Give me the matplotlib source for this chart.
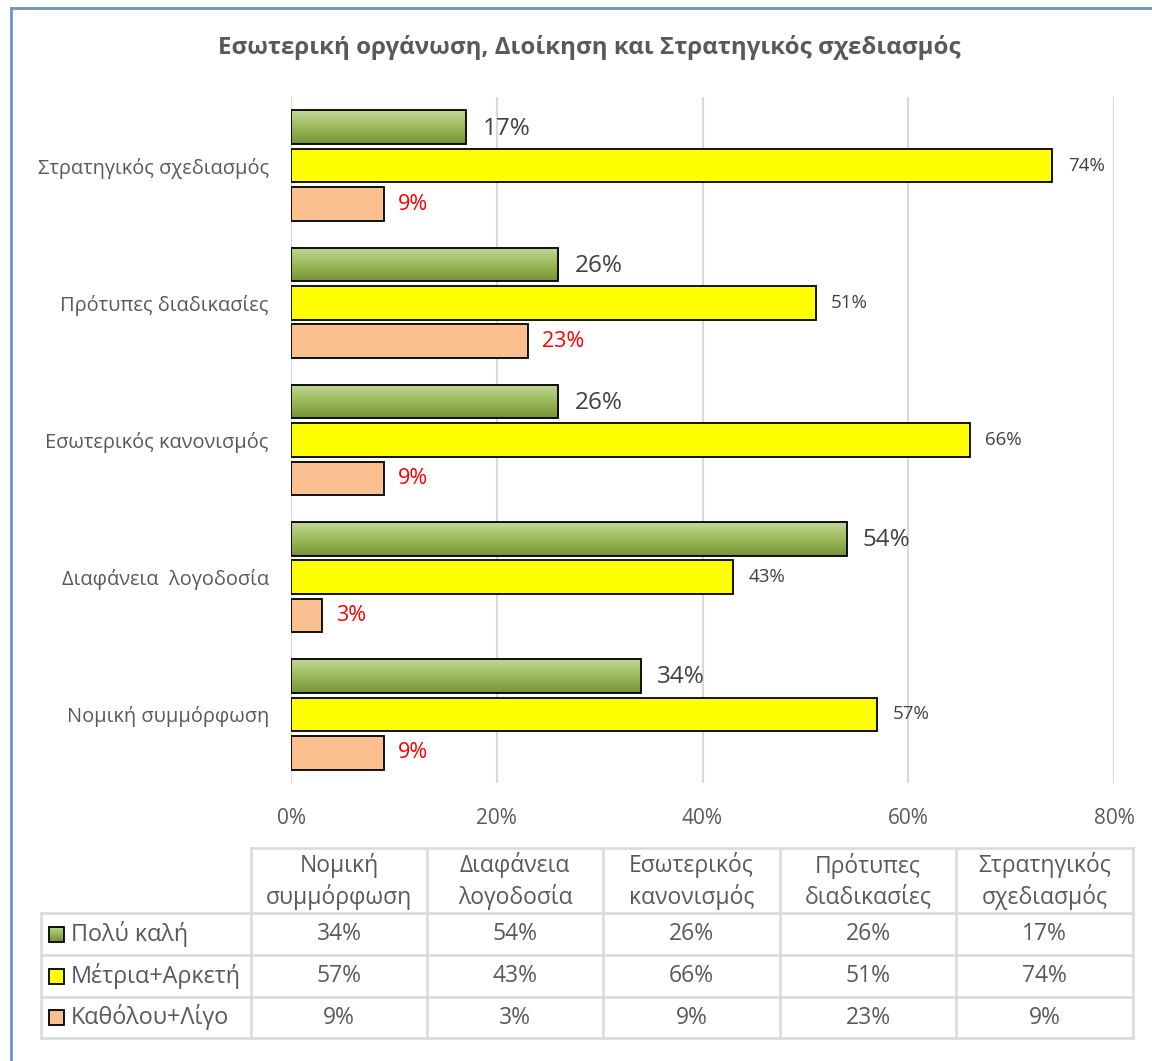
import numpy as np
import matplotlib.pyplot as plt
from matplotlib.patches import Rectangle
from matplotlib.colors import LinearSegmentedColormap

plt.rcParams['font.family'] = ['Open Sans', 'DejaVu Sans']

# κατηγορίες (από κάτω προς τα πάνω) και ποσοστά ανά απάντηση
categories = ['Νομική συμμόρφωση', 'Διαφάνεια  λογοδοσία', 'Εσωτερικός κανονισμός',
              'Πρότυπες διαδικασίες', 'Στρατηγικός σχεδιασμός']
table_headers = ['Νομική\nσυμμόρφωση', 'Διαφάνεια\nλογοδοσία', 'Εσωτερικός\nκανονισμός',
                 'Πρότυπες\nδιαδικασίες', 'Στρατηγικός\nσχεδιασμός']
series_names = ['Πολύ καλή', 'Μέτρια+Αρκετή', 'Καθόλου+Λίγο']
poly_kali = [34, 54, 26, 26, 17]
metria = [57, 43, 66, 51, 74]
katholou = [9, 3, 9, 23, 9]
xticks = [0, 20, 40, 60, 80]

W, H = 1152, 1061
fig = plt.figure(figsize=(W / 100, H / 100), dpi=100)
fig.patch.set_facecolor('white')

ax = fig.add_axes([291 / W, 1 - 783 / H, (1114 - 291) / W, (783 - 97) / H])
y = np.arange(len(categories))
bh = 0.245
off = 0.28
grey = '#595959'

green_cmap = LinearSegmentedColormap.from_list('g', ['#76923c', '#9bbb59', '#c3d69b'])

# πράσινες μπάρες με διαβάθμιση
bars_g = ax.barh(y + off, poly_kali, height=bh, color='none', edgecolor='black', linewidth=1.3, zorder=4)
grad = np.linspace(0, 1, 64).reshape(-1, 1)
for b in bars_g:
    x0, y0 = b.get_x(), b.get_y()
    ax.imshow(grad, cmap=green_cmap, aspect='auto', origin='lower', zorder=3,
              extent=[x0, x0 + b.get_width(), y0, y0 + b.get_height()])
bars_y = ax.barh(y, metria, height=bh, color='#ffff00', edgecolor='black', linewidth=1.3, zorder=3)
bars_o = ax.barh(y - off, katholou, height=bh, color='#fac090', edgecolor='black', linewidth=1.3, zorder=3)

for i in range(len(categories)):
    ax.text(poly_kali[i] + 1.6, y[i] + off - 0.01, f'{poly_kali[i]}%', va='center', ha='left',
            fontsize=17.5, color='#404040')
    ax.text(metria[i] + 1.5, y[i], f'{metria[i]}%', va='center', ha='left',
            fontsize=13.5, color='#404040')
    ax.text(katholou[i] + 1.4, y[i] - off, f'{katholou[i]}%', va='center', ha='left',
            fontsize=15.5, color='#ff0000')

ax.set_xlim(0, 80)
ax.set_ylim(-0.5, len(categories) - 0.5)
ax.set_xticks(xticks)
ax.set_xticklabels([f'{t}%' for t in xticks], fontsize=15, color=grey)
ax.set_yticks(y)
ax.set_yticklabels(categories, fontsize=14.4, color=grey)
ax.tick_params(length=0)
ax.tick_params(axis='x', pad=18)
ax.tick_params(axis='y', pad=16)
ax.grid(axis='x', color='#d9d9d9', linewidth=1.5, zorder=0)
ax.set_axisbelow(True)
for s in ax.spines.values():
    s.set_visible(False)

# επικάλυψη σε pixel για τίτλο, πλαίσιο και πίνακα δεδομένων
ov = fig.add_axes([0, 0, 1, 1], zorder=-1)
ov.set_xlim(0, W)
ov.set_ylim(H, 0)
ov.axis('off')

ov.plot([11, W], [8, 8], color='#6d93c9', linewidth=2)
ov.plot([11, 11], [8, H], color='#6d93c9', linewidth=2)

fig.text(589 / W, 1 - 47 / H, 'Εσωτερική οργάνωση, Διοίκηση και Στρατηγικός σχεδιασμός',
         ha='center', va='center', fontsize=17.4, fontweight='bold', color=grey)

col_x = [41, 251, 427, 603, 780, 956, 1133]
row_y = [848, 913, 955, 997, 1038]
lc = '#d9d9d9'
lw = 1.8
# οριζόντιες γραμμές
ov.plot([col_x[1], col_x[-1]], [row_y[0], row_y[0]], color=lc, lw=lw)
for ry in row_y[1:]:
    ov.plot([col_x[0], col_x[-1]], [ry, ry], color=lc, lw=lw)
# κάθετες γραμμές
ov.plot([col_x[0], col_x[0]], [row_y[1], row_y[-1]], color=lc, lw=lw)
for cx in col_x[1:]:
    ov.plot([cx, cx], [row_y[0], row_y[-1]], color=lc, lw=lw)

for j, h in enumerate(table_headers):
    ov.text((col_x[j + 1] + col_x[j + 2]) / 2, (row_y[0] + row_y[1]) / 2 + 1, h,
            ha='center', va='center', fontsize=16.5, color=grey, linespacing=1.3)

key_colors = [None, '#ffff00', '#fac090']
rows = [poly_kali, metria, katholou]
for r, (name, vals) in enumerate(zip(series_names, rows)):
    cy = (row_y[r + 1] + row_y[r + 2]) / 2
    if r == 0:
        ov.imshow(grad[::-1], cmap=green_cmap, aspect='auto', zorder=2,
                  extent=[49, 64, cy + 7.5, cy - 7.5])
        ov.add_patch(Rectangle((49, cy - 7.5), 15, 15, facecolor='none', edgecolor='black', lw=1.3, zorder=3))
    else:
        ov.add_patch(Rectangle((49, cy - 7.5), 15, 15, facecolor=key_colors[r], edgecolor='black', lw=1.3, zorder=3))
    ov.text(71, cy, name, ha='left', va='center', fontsize=16.8, color=grey)
    for j, v in enumerate(vals):
        ov.text((col_x[j + 1] + col_x[j + 2]) / 2, cy, f'{v}%', ha='center', va='center',
                fontsize=16.5, color=grey)
ov.set_xlim(0, W)
ov.set_ylim(H, 0)

fig.savefig('out.png', dpi=100)
